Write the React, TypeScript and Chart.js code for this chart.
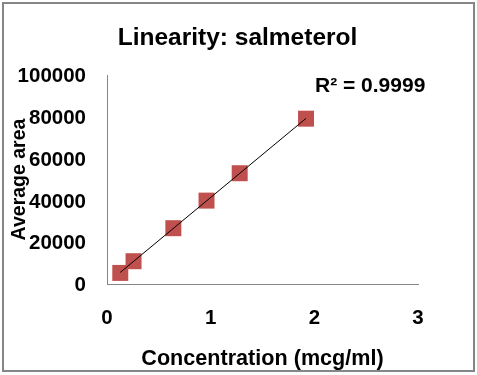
import React, { useEffect, useRef } from "react";
import { Chart, registerables } from "chart.js";

Chart.register(...registerables);

const concentrations = [0.128, 0.256, 0.64, 0.96, 1.28, 1.92];
const averageAreas = [5300, 10900, 26700, 39900, 53000, 79100];
const xTicks = [0, 1, 2, 3];
const yTicks = [0, 20000, 40000, 60000, 80000, 100000];
const chartTitle = "Linearity: salmeterol";
const xTitle = "Concentration (mcg/ml)";
const yTitle = "Average area";
const r2Label = "R\u00B2 = 0.9999";

const FONT = "'Liberation Sans', Arial, sans-serif";

function fitLine(xs: number[], ys: number[]) {
  const n = xs.length;
  const mx = xs.reduce((a, b) => a + b, 0) / n;
  const my = ys.reduce((a, b) => a + b, 0) / n;
  let sxy = 0, sxx = 0;
  for (let i = 0; i < n; i++) {
    sxy += (xs[i] - mx) * (ys[i] - my);
    sxx += (xs[i] - mx) * (xs[i] - mx);
  }
  const slope = sxy / sxx;
  const intercept = my - slope * mx;
  return { slope, intercept };
}

export default function App() {
  const ref = useRef<HTMLCanvasElement | null>(null);

  useEffect(() => {
    if (!ref.current) return;
    const { slope, intercept } = fitLine(concentrations, averageAreas);
    const xmin = Math.min(...concentrations);
    const xmax = Math.max(...concentrations);
    const trend = [
      { x: xmin, y: slope * xmin + intercept },
      { x: xmax, y: slope * xmax + intercept },
    ];
    const points = concentrations.map((x, i) => ({ x, y: averageAreas[i] }));

    const textPlugin = {
      id: "texts",
      afterDraw(chart: any) {
        const ctx = chart.ctx;
        ctx.save();
        ctx.fillStyle = "#000";
        ctx.textBaseline = "alphabetic";
        ctx.font = `bold 24.5px ${FONT}`;
        ctx.textAlign = "center";
        ctx.fillText(chartTitle, 237.5, 45);
        ctx.font = `bold 21px ${FONT}`;
        ctx.textAlign = "left";
        ctx.fillText(r2Label, 315, 91.5);
        ctx.restore();
      },
    };

    const chart = new Chart(ref.current, {
      type: "scatter",
      data: {
        datasets: [
          {
            type: "line",
            data: trend,
            borderColor: "#000",
            borderWidth: 1,
            pointRadius: 0,
            fill: false,
            order: 0,
          } as any,
          {
            data: points,
            pointStyle: "rect",
            pointRadius: 11.3,
            pointBackgroundColor: "#C0504D",
            pointBorderWidth: 0,
            pointBorderColor: "#C0504D",
            order: 1,
          },
        ],
      },
      options: {
        responsive: false,
        animation: false,
        layout: { padding: { top: 75, left: 0, right: 59, bottom: 0 } },
        plugins: {
          legend: { display: false },
          tooltip: { enabled: false },
          title: { display: false },
        },
        scales: {
          x: {
            type: "linear",
            min: 0,
            max: 3,
            afterBuildTicks: (s: any) => {
              s.ticks = xTicks.map((v) => ({ value: v }));
            },
            afterFit: (s: any) => {
              s.height = 91;
            },
            grid: { display: false, drawTicks: false },
            border: { display: true, color: "#868686", width: 1 },
            ticks: {
              color: "#000",
              padding: 22,
              font: { family: FONT, size: 20.5, weight: "bold" },
            },
            title: {
              display: true,
              text: xTitle,
              color: "#000",
              font: { family: FONT, size: 21.6, weight: "bold", lineHeight: 1.2 },
              padding: { top: 0, bottom: 3 },
            },
          },
          y: {
            type: "linear",
            min: 0,
            max: 100000,
            afterBuildTicks: (s: any) => {
              s.ticks = yTicks.map((v) => ({ value: v }));
            },
            afterFit: (s: any) => {
              s.width = 107;
            },
            grid: { display: false, drawTicks: false },
            border: { display: true, color: "#868686", width: 1 },
            ticks: {
              color: "#000",
              padding: 21,
              labelOffset: 1.5,
              font: { family: FONT, size: 20.5, weight: "bold" },
              callback: (v: any) => String(v),
            },
            title: {
              display: true,
              text: yTitle,
              color: "#000",
              font: { family: FONT, size: 19.5, weight: "bold", lineHeight: 1.2 },
              padding: { top: 7.5, bottom: 0 },
            },
          },
        },
      },
      plugins: [textPlugin],
    });
    return () => chart.destroy();
  }, []);

  return (
    <div style={{ position: "fixed", left: 0, top: 0, width: 477, height: 375, background: "#fff" }}>
      <canvas ref={ref} width={477} height={375} style={{ display: "block" }} />
      <div
        style={{
          position: "absolute",
          left: 2,
          top: 2,
          width: 473,
          height: 370,
          boxSizing: "border-box",
          border: "2px solid #868686",
          pointerEvents: "none",
        }}
      />
    </div>
  );
}
